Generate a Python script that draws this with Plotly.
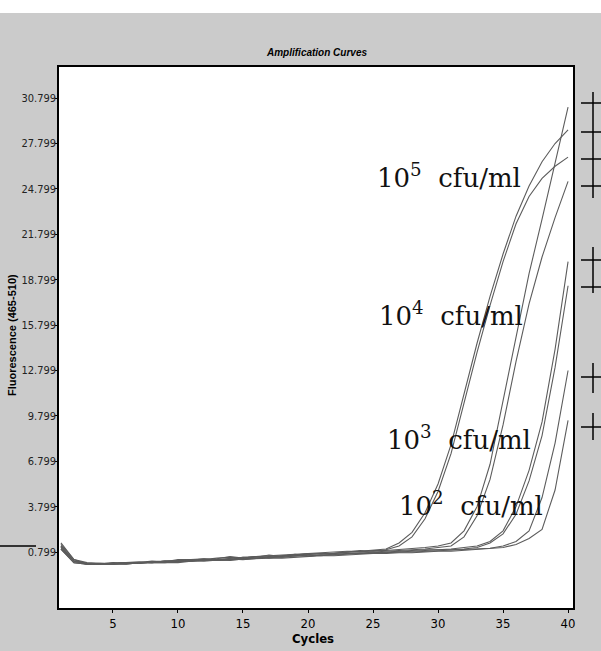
import plotly.graph_objects as go

# Cycle numbers 1..40
cycles = list(range(1, 41))

# Fluorescence (465-510) readings per well, two replicates per dilution
f_1e5_a = [1.3, 0.3, 0.0, 0.0, 0.05, 0.1, 0.1, 0.15, 0.2, 0.25, 0.3, 0.3, 0.4, 0.45, 0.4, 0.5, 0.55, 0.6, 0.65, 0.7,
           0.75, 0.8, 0.85, 0.85, 0.9, 1.0, 1.4, 2.1, 3.4, 5.3, 7.9, 11.2, 14.6, 17.7, 20.5, 23.0, 25.0, 26.6, 27.8, 28.7]
f_1e5_b = [1.1, 0.2, 0.0, 0.05, 0.0, 0.1, 0.15, 0.1, 0.2, 0.2, 0.25, 0.35, 0.3, 0.4, 0.45, 0.5, 0.5, 0.55, 0.6, 0.65,
           0.7, 0.7, 0.8, 0.9, 0.85, 0.95, 1.2, 1.8, 3.0, 4.8, 7.3, 10.6, 14.0, 17.1, 20.0, 22.5, 24.3, 25.5, 26.3, 26.9]
f_1e4_a = [1.2, 0.2, 0.05, 0.0, 0.1, 0.05, 0.1, 0.2, 0.15, 0.3, 0.3, 0.25, 0.35, 0.5, 0.4, 0.45, 0.6, 0.5, 0.6, 0.7,
           0.65, 0.75, 0.8, 0.8, 0.9, 0.9, 0.95, 1.0, 1.1, 1.2, 1.4, 2.2, 3.8, 6.6, 10.8, 15.2, 19.2, 22.8, 26.6, 30.2]
f_1e4_b = [1.0, 0.1, 0.0, 0.0, 0.0, 0.1, 0.05, 0.15, 0.2, 0.2, 0.2, 0.3, 0.3, 0.3, 0.45, 0.4, 0.45, 0.55, 0.55, 0.6,
           0.7, 0.7, 0.75, 0.85, 0.8, 0.85, 0.9, 0.95, 1.0, 1.1, 1.2, 1.8, 3.2, 5.6, 9.2, 13.4, 17.2, 20.3, 22.9, 25.3]
f_1e3_a = [1.4, 0.3, 0.1, 0.05, 0.05, 0.0, 0.1, 0.1, 0.2, 0.15, 0.3, 0.35, 0.25, 0.3, 0.4, 0.5, 0.4, 0.5, 0.65, 0.55,
           0.6, 0.65, 0.7, 0.75, 0.75, 0.8, 0.85, 0.9, 0.95, 0.95, 1.0, 1.1, 1.2, 1.5, 2.2, 3.8, 6.2, 9.4, 14.2, 20.0]
f_1e3_b = [1.1, 0.2, 0.0, 0.0, 0.0, 0.05, 0.1, 0.1, 0.1, 0.2, 0.2, 0.25, 0.3, 0.25, 0.35, 0.4, 0.5, 0.45, 0.5, 0.6,
           0.55, 0.6, 0.7, 0.7, 0.8, 0.75, 0.8, 0.85, 0.9, 0.95, 0.95, 1.0, 1.1, 1.4, 2.0, 3.3, 5.5, 8.5, 13.0, 18.4]
f_1e2_a = [1.2, 0.2, 0.05, 0.0, 0.05, 0.1, 0.05, 0.15, 0.15, 0.2, 0.25, 0.2, 0.3, 0.35, 0.3, 0.4, 0.45, 0.45, 0.55, 0.5,
           0.6, 0.6, 0.65, 0.7, 0.7, 0.75, 0.8, 0.8, 0.85, 0.9, 0.9, 0.95, 1.0, 1.05, 1.2, 1.5, 2.2, 4.4, 8.0, 12.8]
f_1e2_b = [1.0, 0.1, 0.0, 0.0, 0.0, 0.0, 0.1, 0.1, 0.15, 0.1, 0.2, 0.25, 0.25, 0.3, 0.3, 0.35, 0.4, 0.4, 0.45, 0.5,
           0.55, 0.55, 0.6, 0.65, 0.7, 0.7, 0.75, 0.75, 0.8, 0.85, 0.85, 0.9, 0.95, 1.0, 1.1, 1.3, 1.7, 2.3, 4.9, 9.5]

series = [f_1e5_a, f_1e5_b, f_1e4_a, f_1e4_b, f_1e3_a, f_1e3_b, f_1e2_a, f_1e2_b]

# Axis tick values and labels
y_ticks = [0.799, 3.799, 6.799, 9.799, 12.799, 15.799, 18.799, 21.799, 24.799, 27.799, 30.799]
y_tick_text = ["0.799", "3.799", "6.799", "9.799", "12.799", "15.799", "18.799", "21.799", "24.799", "27.799", "30.799"]
x_ticks = [5, 10, 15, 20, 25, 30, 35, 40]

# Dilution labels
NB = "\u00a0"
dilution_labels = [f"10<sup>{e}</sup>{NB}{NB}cfu/ml" for e in (5, 4, 3, 2)]

W, H = 601, 651
L, R, T, B = 59, 28, 67, 43
PW, PH = W - L - R, H - T - B


def px(x):
    return (x - L) / PW


def py(y):
    return (H - B - y) / PH


fig = go.Figure()
for s in series:
    fig.add_trace(go.Scatter(x=cycles, y=s, mode="lines",
                             line=dict(color="#5c5c5c", width=1.1),
                             showlegend=False, hoverinfo="skip"))

narrow = "DejaVu Sans Condensed, Liberation Sans Narrow, Liberation Sans, Arial"

# White band along the top edge of the page
shapes = [dict(type="rect", xref="paper", yref="paper", x0=px(0), x1=px(W), y0=py(13), y1=py(0),
               fillcolor="white", line=dict(width=0), layer="below")]

# Cross marks beside the right edge
for y in [103, 132, 159, 186, 260, 287, 377, 427]:
    shapes.append(dict(type="line", xref="paper", yref="paper", x0=px(581), x1=px(601), y0=py(y), y1=py(y),
                       line=dict(color="black", width=1.5)))
for y0, y1 in [(92, 198), (247, 293), (363, 393), (413, 440)]:
    shapes.append(dict(type="line", xref="paper", yref="paper", x0=px(593), x1=px(593), y0=py(y0), y1=py(y1),
                       line=dict(color="black", width=1.5)))
# Short stroke at the far left
shapes.append(dict(type="line", xref="paper", yref="paper", x0=px(0), x1=px(36), y0=py(546), y1=py(546),
                   line=dict(color="black", width=1.5)))

annotations = [
    dict(text="<b><i>Amplification Curves</i></b>", xref="paper", yref="paper", x=px(316), y=py(52),
         showarrow=False, font=dict(family="Liberation Sans, Arial", size=10, color="black"),
         xanchor="center", yanchor="middle"),
    dict(text="<b>Cycles</b>", xref="paper", yref="paper", x=px(313), y=py(638),
         showarrow=False, font=dict(family=narrow, size=13, color="black"),
         xanchor="center", yanchor="middle"),
    dict(text="<b>Fluorescence (465-510)</b>", xref="paper", yref="paper", x=px(12), y=py(335),
         showarrow=False, textangle=-90, font=dict(family="Liberation Sans, Arial", size=11, color="black"),
         xanchor="center", yanchor="middle"),
]
label_pos = [(375, 176), (377, 314), (385, 438), (397, 504)]
for txt, (lx, ly) in zip(dilution_labels, label_pos):
    annotations.append(dict(text=txt, xref="paper", yref="paper", x=px(lx), y=py(ly), showarrow=False,
                            xanchor="left", yanchor="middle",
                            font=dict(family="DejaVu Serif, Liberation Serif, serif", size=26, color="#111")))

fig.update_layout(
    width=W, height=H,
    margin=dict(l=L, r=R, t=T, b=B, pad=0, autoexpand=False),
    paper_bgcolor="#cbcbcb",
    plot_bgcolor="white",
    shapes=shapes,
    annotations=annotations,
    xaxis=dict(range=[0.85, 40.38], tickvals=x_ticks, ticks="outside", ticklen=3, tickcolor="black",
               automargin=False,
               showgrid=False, zeroline=False, showline=True, linecolor="black", linewidth=1.5, mirror=True,
               tickfont=dict(family=narrow, size=13, color="black")),
    yaxis=dict(range=[-2.90, 32.86], tickvals=y_ticks, ticktext=y_tick_text, ticks="outside", ticklen=2,
               automargin=False, ticklabelstandoff=-3,
               tickcolor="black", showgrid=False, zeroline=False, showline=True, linecolor="black",
               linewidth=1.5, mirror=True,
               tickfont=dict(family=narrow, size=11, color="#222")),
)

fig.write_html("out.html")
